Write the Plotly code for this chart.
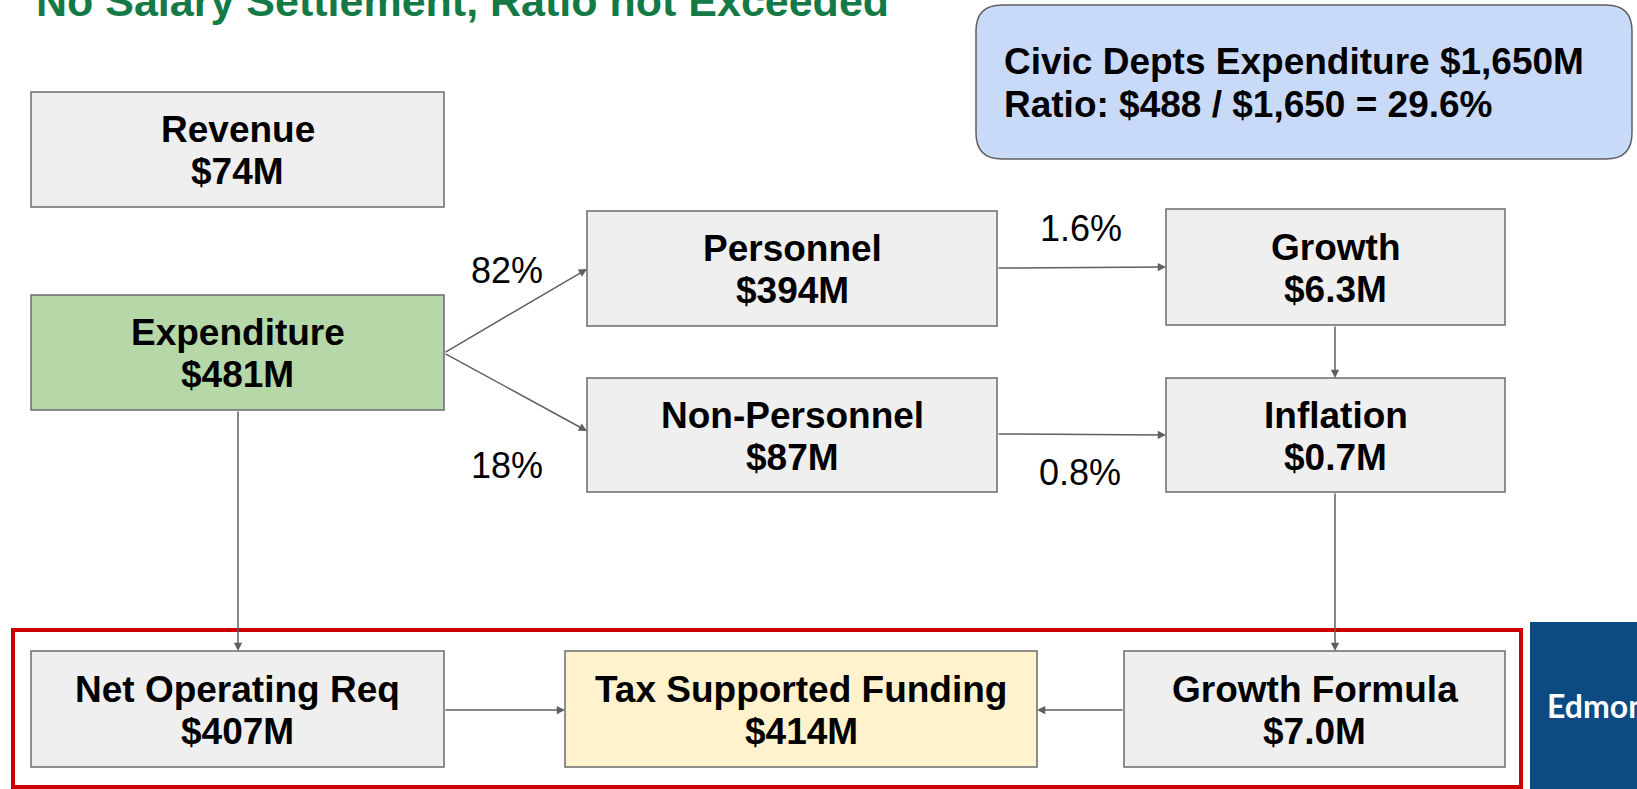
# %%
import plotly.graph_objects as go

# %%
# node text
node_names = ['Revenue', 'Expenditure', 'Personnel', 'Non-Personnel', 'Growth',
              'Inflation', 'Net Operating Req', 'Tax Supported Funding', 'Growth Formula']
node_values = ['$74M', '$481M', '$394M', '$87M', '$6.3M',
               '$0.7M', '$407M', '$414M', '$7.0M']

# edges: from -> to, with optional label
edge_from = ['Expenditure', 'Expenditure', 'Personnel', 'Non-Personnel', 'Growth',
             'Inflation', 'Expenditure', 'Net Operating Req', 'Growth Formula']
edge_to = ['Personnel', 'Non-Personnel', 'Growth', 'Inflation', 'Inflation',
           'Growth Formula', 'Net Operating Req', 'Tax Supported Funding', 'Tax Supported Funding']
edge_labels = ['82%', '18%', '1.6%', '0.8%', '', '', '', '', '']

title_text = 'No Salary Settlement, Ratio not Exceeded'
summary_lines = ['Civic Depts Expenditure $1,650M', 'Ratio: $488 / $1,650 = 29.6%']

# %%
# layout of boxes (x0, x1, y0, y1) in page pixels
box_pos = {
    'Revenue': (31, 444, 92, 207),
    'Expenditure': (31, 444, 295, 410),
    'Personnel': (587, 997, 211, 326),
    'Non-Personnel': (587, 997, 378, 492),
    'Growth': (1166, 1505, 209, 325),
    'Inflation': (1166, 1505, 378, 492),
    'Net Operating Req': (31, 444, 651, 767),
    'Tax Supported Funding': (565, 1037, 651, 767),
    'Growth Formula': (1124, 1505, 651, 767),
}
box_fill = {'Expenditure': '#b6d7a8', 'Tax Supported Funding': '#fff2cc'}
# arrow end points (start, end)
edge_pts = [
    ((444, 353), (587, 269)),
    ((444, 353), (587, 431)),
    ((997, 268), (1166, 267)),
    ((997, 434), (1166, 435)),
    ((1335, 325), (1335, 378)),
    ((1335, 492), (1335, 651)),
    ((238, 410), (238, 651)),
    ((444, 710), (565, 710)),
    ((1124, 710), (1037, 710)),
]
label_pos = [(507, 270), (507, 465), (1081, 228), (1080, 472)]

FONT = 'Liberation Sans, Arial, sans-serif'
W, H = 1637, 789

fig = go.Figure()
shapes = []
annotations = []

# boxes + text
for name, value in zip(node_names, node_values):
    x0, x1, y0, y1 = box_pos[name]
    shapes.append(dict(type='rect', x0=x0, x1=x1, y0=y0, y1=y1, xref='x', yref='y',
                       fillcolor=box_fill.get(name, '#efefef'),
                       line=dict(color='#6b6b6b', width=1.5)))
    cx = (x0 + x1) / 2
    cy = (y0 + y1) / 2 + 1
    annotations.append(dict(x=cx, y=cy - 21, text='<b>%s</b>' % name, showarrow=False,
                            xref='x', yref='y', xanchor='center', yanchor='middle',
                            font=dict(family=FONT, size=37, color='black')))
    annotations.append(dict(x=cx, y=cy + 21, text='<b>%s</b>' % value, showarrow=False,
                            xref='x', yref='y', xanchor='center', yanchor='middle',
                            font=dict(family=FONT, size=37, color='black')))

# arrows
for (s, e) in edge_pts:
    annotations.append(dict(x=e[0], y=e[1], ax=s[0], ay=s[1], xref='x', yref='y',
                            axref='x', ayref='y', showarrow=True, text='',
                            arrowhead=2, arrowsize=1.1, arrowwidth=1.5,
                            arrowcolor='#5f5f5f', standoff=0))

# edge labels
for lab, (lx, ly) in zip([l for l in edge_labels if l], label_pos):
    annotations.append(dict(x=lx, y=ly, text=lab, showarrow=False, xref='x', yref='y',
                            xanchor='center', yanchor='middle',
                            font=dict(family=FONT, size=36, color='black')))

# blue summary box (rounded)
bx0, bx1, by0, by1, r = 976, 1632, 5, 159, 26
path = ('M %d,%d L %d,%d Q %d,%d %d,%d L %d,%d Q %d,%d %d,%d L %d,%d Q %d,%d %d,%d '
        'L %d,%d Q %d,%d %d,%d Z') % (
    bx0 + r, by0, bx1 - r, by0, bx1, by0, bx1, by0 + r, bx1, by1 - r, bx1, by1, bx1 - r, by1,
    bx0 + r, by1, bx0, by1, bx0, by1 - r, bx0, by0 + r, bx0, by0, bx0 + r, by0)
shapes.append(dict(type='path', path=path, xref='x', yref='y', fillcolor='#c9daf8',
                   line=dict(color='#5f5f5f', width=1.5)))
for i, line in enumerate(summary_lines):
    annotations.append(dict(x=1002, y=61 + 43 * i, text='<b>%s</b>' % line, showarrow=False,
                            xref='x', yref='y', xanchor='left', yanchor='middle',
                            font=dict(family=FONT, size=37, color='black')))

# red highlight frame
shapes.append(dict(type='rect', x0=13, x1=1521, y0=630, y1=787, xref='x', yref='y',
                   line=dict(color='#cc0000', width=4)))

# Edmonton logo strip
shapes.append(dict(type='rect', x0=1530, x1=1660, y0=622, y1=800, xref='x', yref='y',
                   fillcolor='#0c4a82', line=dict(width=0)))
annotations.append(dict(x=1545, y=705, text='<b>Edmonton</b>', showarrow=False,
                        xref='x', yref='y', xanchor='left', yanchor='middle',
                        font=dict(family='Lato, sans-serif', size=32, color='white')))

# title (cut off at top of slide)
annotations.append(dict(x=34, y=27, text='<b>%s</b>' % title_text, showarrow=False,
                        xref='x', yref='y', xanchor='left', yanchor='bottom',
                        font=dict(family=FONT, size=43, color='#137a47')))

fig.update_layout(
    width=W, height=H,
    margin=dict(l=0, r=0, t=0, b=0),
    paper_bgcolor='white', plot_bgcolor='white',
    shapes=shapes, annotations=annotations,
    xaxis=dict(range=[0, W], visible=False, fixedrange=True),
    yaxis=dict(range=[H, 0], visible=False, fixedrange=True),
    showlegend=False,
)
fig.write_html('out.html', config={'displayModeBar': False},
               post_script="document.body.style.margin='0';")
